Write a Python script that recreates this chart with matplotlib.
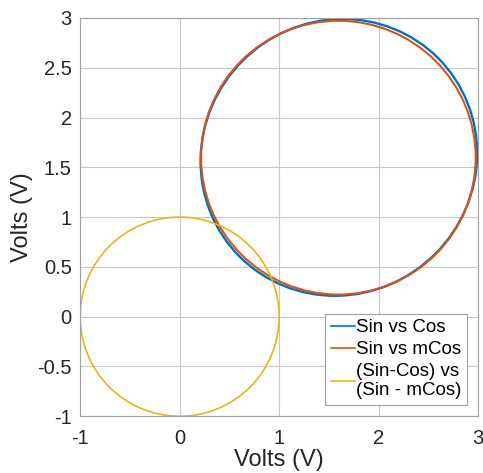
import matplotlib
matplotlib.use('Agg')
import matplotlib.pyplot as plt
from matplotlib.patches import Ellipse
from matplotlib.lines import Line2D

plt.rcParams['font.family'] = ['Liberation Sans', 'DejaVu Sans']
plt.rcParams['axes.unicode_minus'] = False

# Lissajous traces: center x, center y, width, height, tilt (deg)
labels = ['Sin vs Cos', 'Sin vs mCos', '(Sin-Cos) vs\n(Sin - mCos)']
colors = ['#0072BD', '#D95319', '#EDB120']
cx = [1.600, 1.595, 0.0]
cy = [1.600, 1.597, 0.0]
widths = [2.82, 2.76, 2.0]
heights = [2.74, 2.75, 2.0]
angles = [45, 0, 0]
lws = [1.7, 1.5, 1.2]

xticks = [-1, 0, 1, 2, 3]
yticks = [-1, -0.5, 0, 0.5, 1, 1.5, 2, 2.5, 3]
ytick_labels = ['-1', '-0.5', '0', '0.5', '1', '1.5', '2', '2.5', '3']

fig = plt.figure(figsize=(4.83, 4.73), dpi=100)
ax = fig.add_axes([0.166, 0.12, 0.824, 0.842])

handles = []
for x0, y0, w, h, a, c, lw, lab in zip(cx, cy, widths, heights, angles, colors, lws, labels):
    ax.add_patch(Ellipse((x0, y0), w, h, angle=a, fill=False, edgecolor=c, lw=lw))
    handles.append(Line2D([], [], color=c, lw=1.2, label=lab))

ax.set_xlim(-1, 3)
ax.set_ylim(-1, 3)
ax.set_xticks(xticks)
ax.set_yticks(yticks)
ax.set_yticklabels(ytick_labels)
ax.grid(True, color='#c8c8c8', lw=0.8)
ax.set_axisbelow(True)
for s in ax.spines.values():
    s.set_color('#a0a0a0')
    s.set_linewidth(0.8)
ax.tick_params(length=0, labelsize=14.5, colors='#262626')
ax.tick_params(axis='x', pad=9)
ax.tick_params(axis='y', pad=6)
ax.set_xlabel('Volts (V)', fontsize=17, color='#262626', labelpad=1)
ax.set_ylabel('Volts (V)', fontsize=17, color='#262626', labelpad=3)

leg = ax.legend(handles=handles, loc='lower right', fontsize=13.5, handlelength=1.3,
                handletextpad=0.05, borderpad=0.3, labelspacing=0.25, fancybox=False,
                framealpha=1, borderaxespad=0.6)
leg.get_frame().set_edgecolor('#a0a0a0')
leg.get_frame().set_linewidth(0.8)

fig.savefig('out.png', dpi=100)
